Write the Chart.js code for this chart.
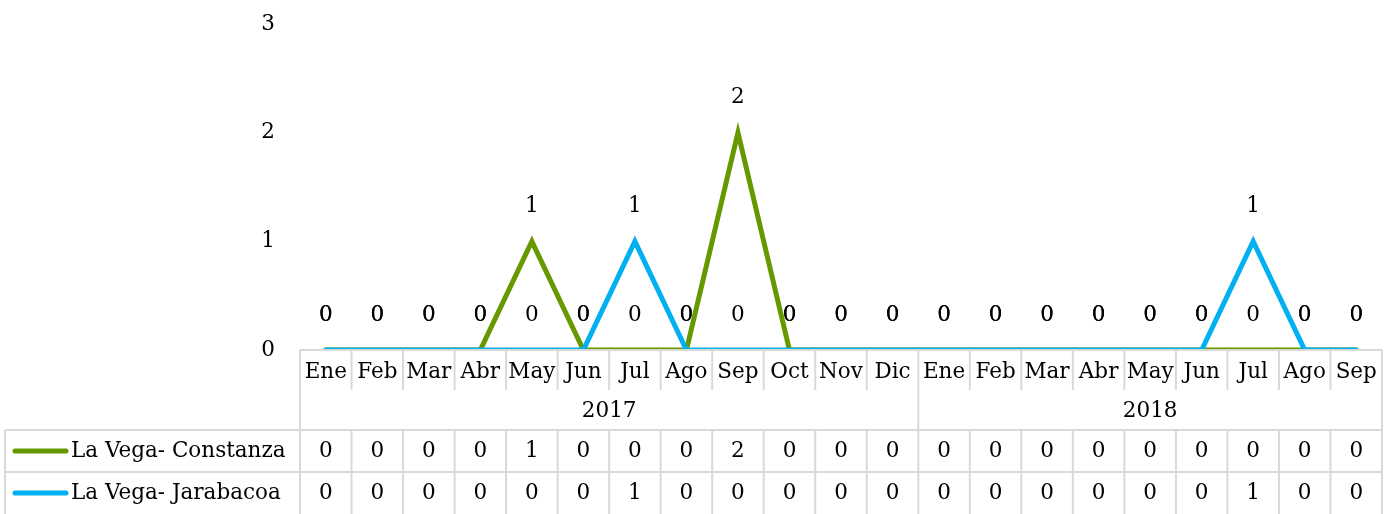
<!DOCTYPE html>
<html>
<head>
<meta charset="utf-8">
<script src="https://cdn.jsdelivr.net/npm/chart.js@4.4.1/dist/chart.umd.min.js"></script>
<style>
  html, body { margin: 0; padding: 0; background: #fff; }
  #wrap { width: 1392px; height: 514px; }
</style>
</head>
<body>
<div id="wrap"><canvas id="chart"></canvas></div>
<script>
// months and years for the two-level category axis
const months = ['Ene','Feb','Mar','Abr','May','Jun','Jul','Ago','Sep','Oct','Nov','Dic',
                'Ene','Feb','Mar','Abr','May','Jun','Jul','Ago','Sep'];
const years = ['2017', '2018'];
const monthsPerYear = [12, 9];

const seriesNames = ['La Vega- Constanza', 'La Vega- Jarabacoa'];
const constanza = [0,0,0,0,1,0,0,0,2,0,0,0, 0,0,0,0,0,0,0,0,0];
const jarabacoa = [0,0,0,0,0,0,1,0,0,0,0,0, 0,0,0,0,0,0,1,0,0];
const yTicks = [0, 1, 2, 3];

const colors = ['#669900', '#00B0F0'];
const gridColor = '#d9d9d9';
const fontFamily = '"DejaVu Serif", "Liberation Serif", serif';

// draws y labels, data labels and the data table under the plot
const tablePlugin = {
  id: 'tablePlugin',
  afterDatasetsDraw(chart) {
    const ctx = chart.ctx;
    const x = chart.scales.x;
    const y = chart.scales.y;
    const area = chart.chartArea;
    const cw = (area.right - area.left) / months.length;
    const top = area.bottom;
    const monthBottom = top + 40;
    const yearBottom = top + 80;
    const row1 = top + 122;
    const row2 = top + 164;

    ctx.save();
    ctx.font = '21.5px ' + fontFamily;
    ctx.fillStyle = '#000';
    ctx.textAlign = 'center';
    ctx.textBaseline = 'middle';

    // y tick labels
    yTicks.forEach(t => {
      ctx.fillText(String(t), area.left - 32, y.getPixelForValue(t));
    });

    // data labels above every point
    [constanza, jarabacoa].forEach(data => {
      data.forEach((v, i) => {
        ctx.fillText(String(v), x.getPixelForValue(i), y.getPixelForValue(v) - 35);
      });
    });

    // table grid
    ctx.strokeStyle = gridColor;
    ctx.lineWidth = 2;
    ctx.beginPath();
    // top line under plot
    ctx.moveTo(area.left, top); ctx.lineTo(area.right, top);
    // month separators (short)
    for (let i = 0; i <= months.length; i++) {
      const bx = area.left + i * cw;
      ctx.moveTo(bx, top); ctx.lineTo(bx, monthBottom);
    }
    // year separators (full through year row)
    let acc = 0;
    [0].concat(monthsPerYear).forEach(n => {
      acc += n;
      const bx = area.left + acc * cw;
      ctx.moveTo(bx, top); ctx.lineTo(bx, yearBottom);
    });
    // series rows
    ctx.moveTo(5, yearBottom); ctx.lineTo(area.right, yearBottom);
    ctx.moveTo(5, row1); ctx.lineTo(area.right, row1);
    ctx.moveTo(5, yearBottom); ctx.lineTo(5, row2);
    for (let i = 0; i <= months.length; i++) {
      const bx = area.left + i * cw;
      ctx.moveTo(bx, yearBottom); ctx.lineTo(bx, row2);
    }
    ctx.stroke();

    // month labels
    months.forEach((m, i) => {
      ctx.fillText(m, x.getPixelForValue(i), top + 22);
    });
    // year labels
    acc = 0;
    years.forEach((yr, k) => {
      const mid = area.left + (acc + monthsPerYear[k] / 2) * cw;
      ctx.fillText(yr, mid, top + 61);
      acc += monthsPerYear[k];
    });

    // series rows: key, name and values
    [constanza, jarabacoa].forEach((data, s) => {
      const cy = yearBottom + 21 + s * 42;
      ctx.strokeStyle = colors[s];
      ctx.lineWidth = 5;
      ctx.lineCap = 'round';
      ctx.beginPath();
      ctx.moveTo(15, cy); ctx.lineTo(66, cy);
      ctx.stroke();
      ctx.textAlign = 'left';
      ctx.fillText(seriesNames[s], 71, cy);
      ctx.textAlign = 'center';
      data.forEach((v, i) => {
        ctx.fillText(String(v), x.getPixelForValue(i), cy);
      });
    });
    ctx.restore();
  }
};

new Chart(document.getElementById('chart'), {
  type: 'line',
  data: {
    labels: months,
    datasets: [
      {
        label: seriesNames[0],
        data: constanza,
        borderColor: colors[0],
        order: 1
      },
      {
        label: seriesNames[1],
        data: jarabacoa,
        borderColor: colors[1],
        order: 0
      }
    ]
  },
  options: {
    responsive: true,
    maintainAspectRatio: false,
    animation: false,
    layout: { padding: { left: 300, right: 10, top: 24, bottom: 164 } },
    elements: {
      line: { borderWidth: 5, tension: 0, borderCapStyle: 'round', borderJoinStyle: 'miter' },
      point: { radius: 0, hoverRadius: 0 }
    },
    plugins: {
      legend: { display: false },
      tooltip: { enabled: false }
    },
    scales: {
      x: { display: false, offset: true },
      y: { display: false, min: 0, max: 3 }
    }
  },
  plugins: [tablePlugin]
});
</script>
</body>
</html>
